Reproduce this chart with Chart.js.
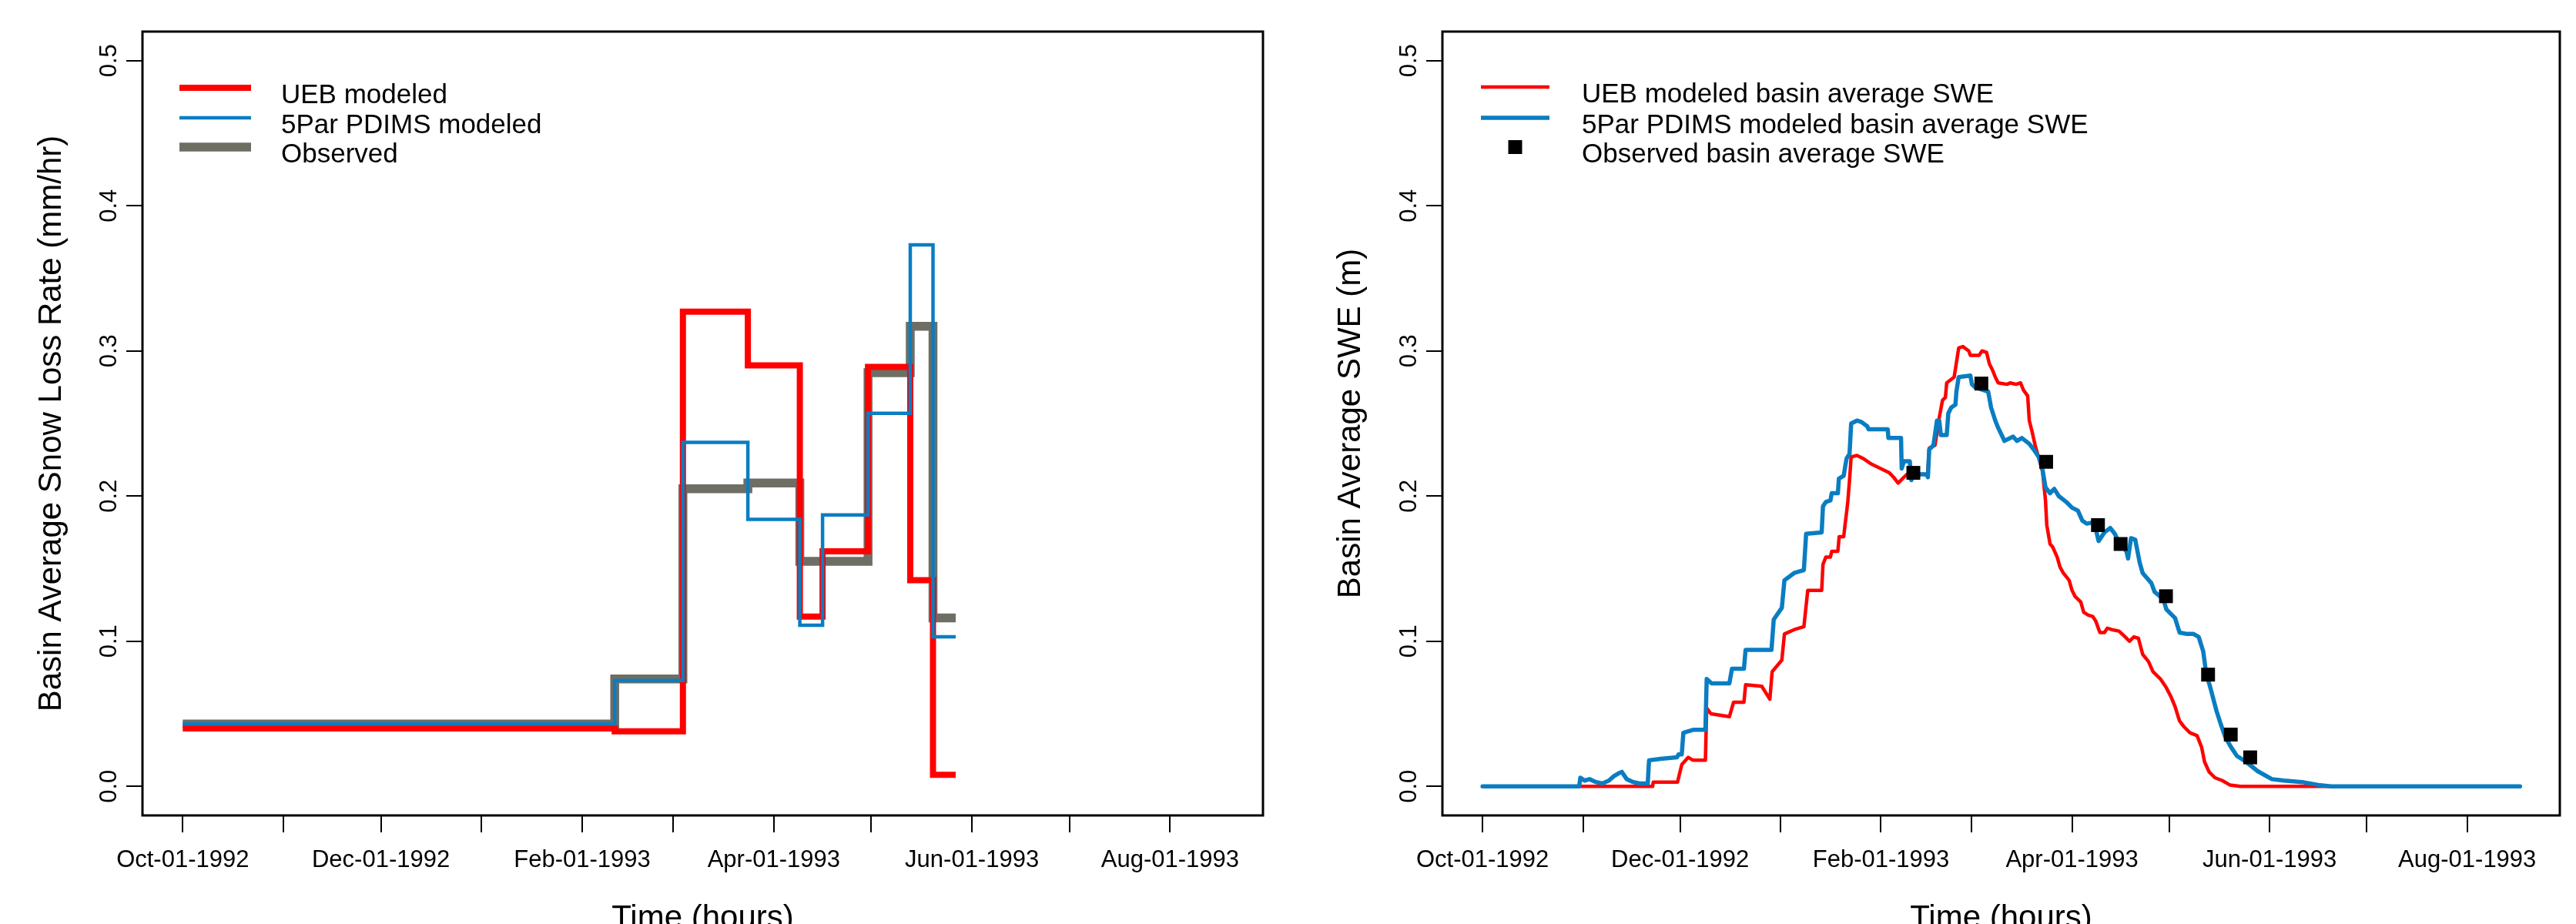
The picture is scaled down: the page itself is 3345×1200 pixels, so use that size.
<!DOCTYPE html>
<html lang="en">
<head>
<meta charset="UTF-8">
<title>Basin average snow loss rate and SWE</title>
<style>
  html, body { margin: 0; padding: 0; background: #fff; }
  body { width: 3345px; height: 1200px; position: relative; overflow: hidden; }
  canvas { position: absolute; top: 0; }
  #rateChart { left: 0; }
  #sweChart { left: 1720px; }
</style>
</head>
<body>
<canvas id="rateChart" width="1720" height="1200"></canvas>
<canvas id="sweChart" width="1625" height="1200"></canvas>

<script src="https://cdn.jsdelivr.net/npm/chart.js"></script>
<script>
// x values are days since Oct-01-1992
const monthTickDays = [0, 31, 61, 92, 123, 151, 182, 212, 243, 273, 304];
const monthTickLabels = ['Oct-01-1992', '', 'Dec-01-1992', '', 'Feb-01-1993', '', 'Apr-01-1993', '', 'Jun-01-1993', '', 'Aug-01-1993'];
const yTickValues = [0, 0.1, 0.2, 0.3, 0.4, 0.5];
const yTickLabels = ['0.0', '0.1', '0.2', '0.3', '0.4', '0.5'];

// left panel: loss rate over the periods between snow surveys (mm/hr)
const periodStartDays = [0, 133, 154, 174, 190, 197, 211, 224, 231, 238];
const uebRate   = [0.040, 0.038, 0.327, 0.290, 0.117, 0.162, 0.289, 0.142, 0.008, 0.008];
const pdimsRate = [0.043, 0.073, 0.237, 0.184, 0.111, 0.187, 0.257, 0.373, 0.103, 0.103];
const obsRate   = [0.043, 0.074, 0.205, 0.209, 0.155, 0.155, 0.285, 0.317, 0.116, 0.116];

// right panel: basin average SWE (m)
const uebDays = [0, 52.5, 52.7, 60.2, 61.5, 63.5, 65, 68.8, 69.2, 70.5, 76.2, 77.5, 80.7, 81.2, 86.2, 88.7, 89.4, 92.4, 93.2, 96.2,
  99.2, 100.4, 104.7, 105.1, 106.0, 107.4, 107.8, 109.7, 110.1, 111.5, 111.9, 112.4, 112.8, 113.3, 113.8, 115.6, 117.4, 120.1, 122.9, 125.6,
  126.9, 128.3, 130.1, 131.0, 137.4, 137.9, 139.7, 141.0, 142.0, 142.9, 143.3, 145.6, 146.1, 147.0, 148.3, 150.1, 150.6, 153.3, 154.2, 155.6,
  156.5, 157.4, 158.3, 159.2, 162.0, 162.9, 164.7, 166.1, 167.0, 168.3, 168.8, 169.7, 170.6, 172.0, 172.9, 173.8, 174.2, 175.2, 176.0, 177.4,
  178.3, 179.3, 181.1, 182.0, 182.9, 184.7, 185.6, 187.0, 188.4, 189.3, 190.6, 192.0, 192.9, 194.3, 196.5, 198.4, 199.7, 201.1, 202.5, 203.8,
  205.6, 207.0, 209.3, 211.1, 212.5, 213.8, 215.2, 216.6, 218.4, 220.6, 222.0, 222.9, 224.3, 226.1, 228.4, 230.7, 234, 320.3];
const uebSwe = [0, 0, 0.003, 0.003, 0.015, 0.020, 0.018, 0.018, 0.054, 0.050, 0.048, 0.058, 0.058, 0.070, 0.069, 0.060, 0.079, 0.087, 0.105, 0.108,
  0.110, 0.135, 0.135, 0.153, 0.158, 0.158, 0.162, 0.162, 0.172, 0.172, 0.180, 0.189, 0.197, 0.211, 0.227, 0.228, 0.226, 0.222, 0.219, 0.216,
  0.213, 0.209, 0.213, 0.215, 0.215, 0.233, 0.235, 0.254, 0.266, 0.268, 0.278, 0.282, 0.289, 0.302, 0.303, 0.300, 0.297, 0.297, 0.300, 0.299,
  0.291, 0.287, 0.282, 0.278, 0.277, 0.278, 0.277, 0.278, 0.273, 0.269, 0.252, 0.244, 0.235, 0.224, 0.217, 0.197, 0.180, 0.167, 0.165, 0.158,
  0.151, 0.147, 0.142, 0.135, 0.131, 0.127, 0.120, 0.118, 0.117, 0.114, 0.106, 0.106, 0.109, 0.108, 0.107, 0.103, 0.100, 0.103, 0.102, 0.091,
  0.086, 0.079, 0.074, 0.068, 0.062, 0.055, 0.045, 0.041, 0.037, 0.035, 0.027, 0.017, 0.010, 0.006, 0.004, 0.001, 0, 0];

const pdimsDays = [0, 29.8, 30.2, 31.5, 33, 35, 37, 39, 40.5, 42, 43, 44.5, 46.5, 48.5, 51, 51.4, 55, 60, 60.5, 61.5,
  62, 65, 68.8, 69.2, 70.7, 76.2, 77, 80.7, 81.2, 89.2, 89.9, 92.4, 93.2, 96.2, 99.2, 99.9, 104.7, 105.1, 106.0, 107.4,
  107.8, 109.7, 110, 111.5, 112, 112.4, 113.3, 113.8, 115.6, 117, 118.8, 119.2, 125.1, 125.3, 129.2, 129.4, 130.1, 131.9, 132.4, 132.9,
  137.0, 137.5, 137.9, 139.2, 140.3, 141.0, 141.5, 143.3, 143.8, 144.7, 146.0, 146.3, 147.0, 150.6, 151.1, 152, 156.1, 157.0, 158.3, 159.2,
  160.5, 161.1, 163.8, 165, 166.5, 168.8, 170.2, 172.0, 172.9, 173.8, 175.2, 176.5, 177.9, 180.2, 182.0, 183.8, 185.2, 186.5, 188.8, 190.2,
  192.0, 193.8, 195.2, 196.5, 198.8, 199.3, 200.2, 201.5, 202.9, 203.8, 206.5, 207.5, 210.2, 211.1, 213.8, 215.2, 217.5, 219.5, 221.1, 222.5,
  223.4, 224.7, 226.6, 227.9, 229.3, 231.1, 232.9, 235.7, 239.3, 243.7, 247.5, 253, 258, 262, 320.3];
const pdimsSwe = [0, 0, 0.006, 0.004, 0.005, 0.003, 0.002, 0.004, 0.007, 0.009, 0.010, 0.005, 0.003, 0.002, 0.002, 0.018, 0.019, 0.020, 0.022, 0.022,
  0.037, 0.039, 0.039, 0.074, 0.071, 0.071, 0.081, 0.081, 0.094, 0.094, 0.115, 0.123, 0.142, 0.147, 0.149, 0.174, 0.175, 0.193, 0.196, 0.197,
  0.202, 0.202, 0.212, 0.214, 0.221, 0.226, 0.229, 0.250, 0.252, 0.251, 0.248, 0.246, 0.246, 0.240, 0.240, 0.219, 0.224, 0.224, 0.211, 0.215,
  0.215, 0.213, 0.232, 0.235, 0.252, 0.252, 0.242, 0.242, 0.257, 0.261, 0.263, 0.272, 0.282, 0.283, 0.277, 0.275, 0.272, 0.261, 0.252, 0.247,
  0.241, 0.238, 0.241, 0.238, 0.240, 0.236, 0.232, 0.226, 0.218, 0.206, 0.202, 0.205, 0.200, 0.196, 0.192, 0.190, 0.183, 0.181, 0.182, 0.169,
  0.175, 0.178, 0.174, 0.168, 0.162, 0.157, 0.171, 0.170, 0.154, 0.147, 0.140, 0.134, 0.129, 0.122, 0.116, 0.106, 0.105, 0.105, 0.103, 0.093,
  0.078, 0.068, 0.052, 0.043, 0.034, 0.027, 0.021, 0.017, 0.0105, 0.005, 0.004, 0.003, 0.001, 0, 0];

const obsDays = [133, 154, 174, 190, 197, 211, 224, 231, 237];
const obsSwe = [0.216, 0.2775, 0.2236, 0.180, 0.167, 0.131, 0.077, 0.0357, 0.020];

const RED = '#ff0000';
const BLUE = '#0a7dc2';
const GRAY = '#6f6e65';
const FONT = "'Liberation Sans', Arial, Helvetica, sans-serif";

Chart.defaults.font.family = FONT;
Chart.defaults.color = '#000';

function toPoints(xs, ys) {
  return xs.map((x, i) => ({x: x, y: ys[i]}));
}

// box around the plot region, like R's box()
const boxPlugin = {
  id: 'rBox',
  afterDraw(chart) {
    const a = chart.chartArea;
    const ctx = chart.ctx;
    ctx.save();
    ctx.strokeStyle = '#000';
    ctx.lineWidth = 3;
    ctx.strokeRect(a.left, a.top, a.right - a.left, a.bottom - a.top);
    ctx.restore();
  }
};

// y tick labels drawn parallel to the axis
const yLabelPlugin = {
  id: 'rYLabels',
  afterDraw(chart) {
    const y = chart.scales.y;
    const ctx = chart.ctx;
    ctx.save();
    ctx.font = '31px ' + FONT;
    ctx.fillStyle = '#000';
    ctx.textAlign = 'center';
    ctx.textBaseline = 'alphabetic';
    y.ticks.forEach((t, i) => {
      ctx.save();
      ctx.translate(chart.chartArea.left - 34, y.getPixelForValue(t.value));
      ctx.rotate(-Math.PI / 2);
      ctx.fillText(yTickLabels[i], 0, 0);
      ctx.restore();
    });
    ctx.restore();
  }
};

// legend in the top left of the plot region
const legendPlugin = {
  id: 'rLegend',
  afterDraw(chart, args, opts) {
    const ctx = chart.ctx;
    ctx.save();
    ctx.font = '35px ' + FONT;
    ctx.fillStyle = '#000';
    ctx.textAlign = 'left';
    ctx.textBaseline = 'alphabetic';
    chart.data.datasets.forEach((ds, i) => {
      const rowY = opts.rows[i];
      if (ds.showLine === false) {
        const s = 18;
        ctx.fillStyle = ds.pointBackgroundColor;
        ctx.fillRect((opts.x0 + opts.x1) / 2 - s / 2, rowY - s / 2, s, s);
      } else {
        ctx.strokeStyle = ds.borderColor;
        ctx.lineWidth = ds.borderWidth;
        ctx.lineCap = 'butt';
        ctx.beginPath();
        ctx.moveTo(opts.x0, rowY);
        ctx.lineTo(opts.x1, rowY);
        ctx.stroke();
      }
      ctx.fillStyle = '#000';
      ctx.fillText(ds.label, opts.textX, rowY + 20);
    });
    ctx.restore();
  }
};

function makeOptions(yTitle, yTitlePad, yAxisWidth, rightPad, legendOpts) {
  return {
    responsive: false,
    animation: false,
    devicePixelRatio: 1,
    layout: {padding: {top: 41, right: rightPad, left: 0, bottom: 0}},
    elements: {point: {radius: 0, hoverRadius: 0}, line: {tension: 0}},
    events: [],
    plugins: {
      legend: {display: false},
      tooltip: {enabled: false},
      rLegend: legendOpts
    },
    scales: {
      x: {
        type: 'linear',
        min: -12.4,
        max: 332.6,
        afterBuildTicks: s => { s.ticks = monthTickDays.map(v => ({value: v})); },
        afterFit: s => { s.height = 141; },
        grid: {drawOnChartArea: false, drawTicks: true, tickLength: 22, color: '#000', lineWidth: 2},
        border: {display: false},
        ticks: {
          autoSkip: false, maxRotation: 0, minRotation: 0, padding: 18,
          font: {size: 31}, color: '#000',
          callback: (v, i) => monthTickLabels[i]
        },
        title: {display: true, text: 'Time (hours)', color: '#000', font: {size: 42, lineHeight: 0.31}, padding: 0}
      },
      y: {
        type: 'linear',
        min: -0.02,
        max: 0.52,
        afterBuildTicks: s => { s.ticks = yTickValues.map(v => ({value: v})); },
        afterFit: s => { s.width = yAxisWidth; },
        grid: {drawOnChartArea: false, drawTicks: true, tickLength: 21, color: '#000', lineWidth: 2},
        border: {display: false},
        ticks: {display: false},
        title: {display: true, text: yTitle, color: '#000', font: {size: 42, lineHeight: 1.2}, padding: {top: yTitlePad, bottom: 0}}
      }
    }
  };
}

new Chart(document.getElementById('rateChart'), {
  type: 'line',
  data: {
    datasets: [
      {label: 'UEB modeled', data: toPoints(periodStartDays, uebRate), borderColor: RED, borderWidth: 8,
        stepped: true, borderJoinStyle: 'miter', borderCapStyle: 'butt', order: 2},
      {label: '5Par PDIMS modeled', data: toPoints(periodStartDays, pdimsRate), borderColor: BLUE, borderWidth: 4.5,
        stepped: true, borderJoinStyle: 'miter', borderCapStyle: 'butt', order: 1},
      {label: 'Observed', data: toPoints(periodStartDays, obsRate), borderColor: GRAY, borderWidth: 11.5,
        stepped: true, borderJoinStyle: 'miter', borderCapStyle: 'butt', order: 3}
    ]
  },
  options: makeOptions('Basin Average Snow Loss Rate (mm/hr)', 42, 185, 80,
    {x0: 233, x1: 326, textX: 365, rows: [114, 153, 191]}),
  plugins: [boxPlugin, yLabelPlugin, legendPlugin]
});

new Chart(document.getElementById('sweChart'), {
  type: 'line',
  data: {
    datasets: [
      {label: 'UEB modeled basin average SWE', data: toPoints(uebDays, uebSwe), borderColor: RED, borderWidth: 4.5,
        borderJoinStyle: 'round', borderCapStyle: 'round', order: 3},
      {label: '5Par PDIMS modeled basin average SWE', data: toPoints(pdimsDays, pdimsSwe), borderColor: BLUE, borderWidth: 5.5,
        borderJoinStyle: 'round', borderCapStyle: 'round', order: 2},
      {label: 'Observed basin average SWE', data: toPoints(obsDays, obsSwe), showLine: false,
        pointStyle: 'rect', pointRadius: 12.7, pointBackgroundColor: '#000', pointBorderWidth: 0, order: 1}
    ]
  },
  options: makeOptions('Basin Average SWE (m)', 9, 153, 21,
    {x0: 203, x1: 292, textX: 334, rows: [113, 153, 191]}),
  plugins: [boxPlugin, yLabelPlugin, legendPlugin]
});
</script>
</body>
</html>
